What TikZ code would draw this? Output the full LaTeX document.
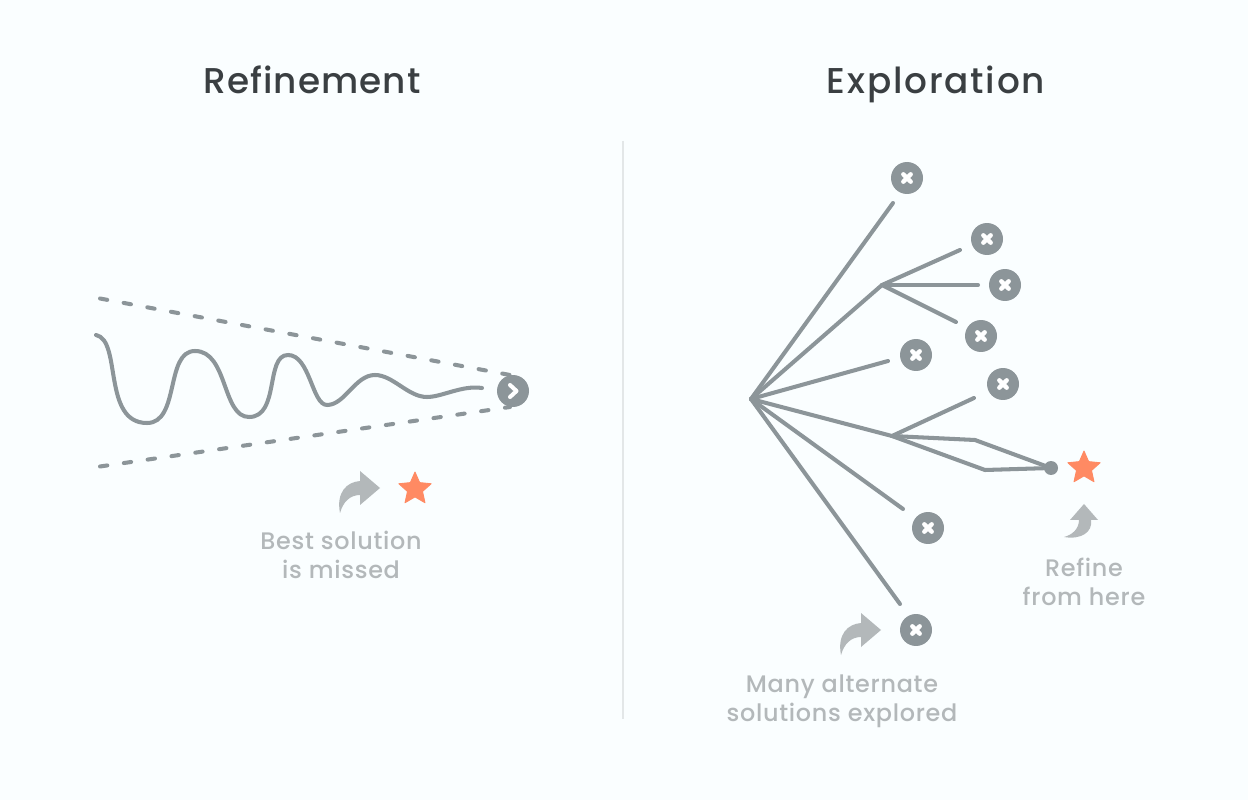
\documentclass[tikz,border=0pt]{standalone}
\usepackage{fontspec}
\usepackage{xcolor}
\usetikzlibrary{shapes.geometric}
\setmainfont[LetterSpace=3]{Poppins Medium}
\definecolor{pagebg}{HTML}{FAFEFF}
\definecolor{linegrey}{HTML}{8C9599}
\definecolor{notegrey}{HTML}{B3B8BA}
\definecolor{titlegrey}{HTML}{3A3F42}
\definecolor{rulegrey}{HTML}{E3E7E8}
\definecolor{staronge}{HTML}{FF8A63}

\begin{document}
\begin{tikzpicture}[x=0.02cm, y=-0.02cm,
    branch/.style={draw=linegrey, line width=2.3pt, line cap=round, line join=round},
    guide/.style={branch, dash pattern=on 4.2pt off 9.5pt},
    endnode/.style={circle, fill=linegrey, minimum size=0.64cm, inner sep=0pt},
    lost/.style={endnode, path picture={
        \draw[white, line width=2.5pt, line cap=round] (-3.7,-3.7) -- (3.7,3.7) (-3.7,3.7) -- (3.7,-3.7);}},
    going/.style={endnode, path picture={
        \draw[white, line width=2.3pt, line cap=round, line join=round] (-3,-6) -- (3.5,0) -- (-3,6);}},
    goodstar/.style={star, star points=5, star point ratio=2.15, fill=staronge, draw=staronge, line width=0.5pt, line join=round, minimum size=0.68cm, inner sep=0pt},
    heading/.style={anchor=base, font=\fontsize{20.4}{24}\selectfont, text=titlegrey},
    note/.style={font=\fontsize{13.6}{16.4}\selectfont, text=notegrey, align=center},
    bent/.style={fill=notegrey}]
    \fill[pagebg] (0,0) rectangle (1248,800);
    \useasboundingbox (0,0) rectangle (1248,800);
    % Titles
    \node[heading] (refinetitle) at (312,94) {Refinement};
    \node[heading] (exploretitle) at (936,94) {\addfontfeature{LetterSpace=5}Exploration};
    \coordinate (ruletop) at (623,141);
    \coordinate (rulebottom) at (623,719);
    \draw[rulegrey, line width=1.1pt] (ruletop) -- (rulebottom);
    % Refinement side
    \node[going] (current) at (513,391) {};
    \coordinate (uppertail) at (100,298.5);
    \coordinate (lowertail) at (100,466.5);
    \coordinate (upperhead) at (510,375);
    \coordinate (lowerhead) at (510,407);
    \draw[guide] (uppertail) -- (upperhead);
    \draw[guide] (lowertail) -- (lowerhead);
    \draw[branch] (96,335) .. controls (122,340) and (102,423) .. (147,423)
        .. controls (180,423) and (165,351) .. (195,351)
        .. controls (228,351) and (222,417) .. (249,417)
        .. controls (280,417) and (265,355) .. (288,355)
        .. controls (310,355) and (312,405) .. (327,405)
        .. controls (345,405) and (355,375) .. (375,375)
        .. controls (393,375) and (408,397) .. (427,397)
        .. controls (442,397) and (462,385) .. (482,388);
    \fill[bent] (380,488) -- (360,471) -- (360,481) .. controls (347,482) and (336,492) .. (340,513)
        .. controls (343,502) and (350,495) .. (360,495) -- (360,505) -- cycle;
    \node[goodstar] (missedstar) at (415,489) {};
    \node[note] (missednote) at (341,555) {Best solution\\is missed};
    % Exploration side
    \coordinate (root) at (751,399);
    \coordinate (hubtop) at (882,285);
    \coordinate (hublow) at (892,436);
    \foreach \name/\px/\py in {a/907/178, b/987/239, c/1005/285, d/981/336, e/916/355, f/1003/384, g/928/528, h/916/630}
        \node[lost] (lost\name) at (\px,\py) {};
    \coordinate (enda) at (893,203);
    \coordinate (endb) at (960,250);
    \coordinate (endc) at (978,285);
    \coordinate (endd) at (956,322);
    \coordinate (ende) at (888,361);
    \coordinate (endf) at (974,398);
    \coordinate (endg) at (903,509);
    \coordinate (endh) at (900,604);
    \draw[branch] (root) -- (enda);
    \draw[branch] (root) -- (hubtop) -- (endb);
    \draw[branch] (hubtop) -- (endc);
    \draw[branch] (hubtop) -- (endd);
    \draw[branch] (root) -- (ende);
    \draw[branch] (root) -- (hublow) -- (endf);
    \draw[branch] (root) -- (endg);
    \draw[branch] (root) -- (endh);
    % Two ways to the best point
    \node[circle, fill=linegrey, minimum size=0.28cm, inner sep=0pt] (bestpoint) at (1051,468) {};
    \coordinate (bendup) at (975,440);
    \coordinate (benddown) at (985,470);
    \draw[branch] (hublow) -- (bendup) -- (bestpoint.center);
    \draw[branch] (hublow) -- (benddown) -- (bestpoint.center);
    \node[goodstar] (beststar) at (1084,468) {};
    \fill[bent] (1084,504) -- (1070,520) -- (1079,520) .. controls (1079,529) and (1072,535) .. (1064,537)
        .. controls (1081,540) and (1093,532) .. (1091,520) -- (1098,520) -- cycle;
    \node[note] (refinenote) at (1084,581.5) {Refine\\from here};
    \fill[bent] (881,630) -- (861,613) -- (861,623) .. controls (848,624) and (837,634) .. (841,655)
        .. controls (844,644) and (851,637) .. (861,637) -- (861,647) -- cycle;
    \node[note] (manynote) at (842,701) {Many alternate\\solutions explored};
\end{tikzpicture}
\end{document}
